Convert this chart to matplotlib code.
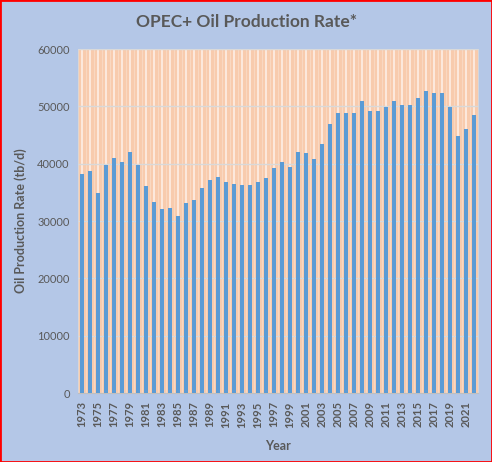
import numpy as np
import matplotlib.pyplot as plt
from matplotlib.patches import Rectangle

plt.rcParams['font.family'] = ['Lato', 'DejaVu Sans']

years = list(range(1973, 2023))
production = [38200, 38700, 34900, 39800, 41000, 40300, 42000, 39800, 36100, 33300,
              32100, 32300, 30900, 33100, 33700, 35800, 37200, 37700, 36800, 36500,
              36300, 36300, 36800, 37500, 39300, 40300, 39400, 42000, 41900, 40800,
              43400, 46900, 48800, 48800, 48800, 50900, 49200, 49200, 49900, 50900,
              50200, 50200, 51500, 52700, 52300, 52300, 49900, 44800, 46000, 48500]
tick_labels = [str(y) for y in years[::2]]

text_color = '#595959'
outer_bg = '#B4C7E7'
plot_bg = '#F8CBAD'
bar_color = '#5B9BD5'

fig = plt.figure(figsize=(4.92, 4.62), dpi=100, facecolor=outer_bg)
ax = fig.add_axes([78 / 492, 1 - 393 / 462, 400 / 492, 344 / 462])
ax.set_facecolor(plot_bg)

x = np.arange(len(years))
ymax = 60000

# faint white stripes above the bars (pattern fill of the chart area)
ax.vlines(x, production, ymax, colors='white', linewidth=1.1, alpha=0.75, zorder=1)
ax.vlines(x + 0.5, 0, ymax, colors='white', linewidth=0.8, alpha=0.25, zorder=1)

ax.bar(x, production, width=0.45, color=bar_color, zorder=3)

ax.set_ylim(0, ymax)
ax.set_xlim(-0.5, len(years) - 0.5)
ax.set_yticks(range(0, 60001, 10000))
ax.yaxis.grid(True, color='#D9D9D9', linewidth=1, zorder=2)
ax.set_axisbelow(False)
ax.tick_params(axis='y', length=0, labelsize=8, labelcolor=text_color, pad=6)
ax.set_xticks(x[::2])
ax.set_xticklabels(tick_labels, rotation=90, fontsize=8, fontweight='bold', color=text_color)
ax.tick_params(axis='x', length=0, pad=6)

for side in ['top', 'right', 'left']:
    ax.spines[side].set_color('#D9D9D9')
    ax.spines[side].set_linewidth(0.6)
ax.spines['bottom'].set_color('#BFBFBF')

ax.set_xlabel('Year', fontsize=9, fontweight='bold', color=text_color, labelpad=9)
ylab = ax.set_ylabel('Oil Production Rate (tb/d)', fontsize=9, fontweight='bold',
                     color=text_color, labelpad=7)
ylab.set_y(0.5)

fig.text(0.5, 1 - 22 / 462, 'OPEC+ Oil Production Rate*', ha='center', va='center',
         fontsize=12.5, fontweight='bold', color=text_color)

fig.patches.append(Rectangle((0, 0), 1, 1, transform=fig.transFigure, fill=False,
                             edgecolor='red', linewidth=2))

fig.savefig('out.png', dpi=100, facecolor=outer_bg)
